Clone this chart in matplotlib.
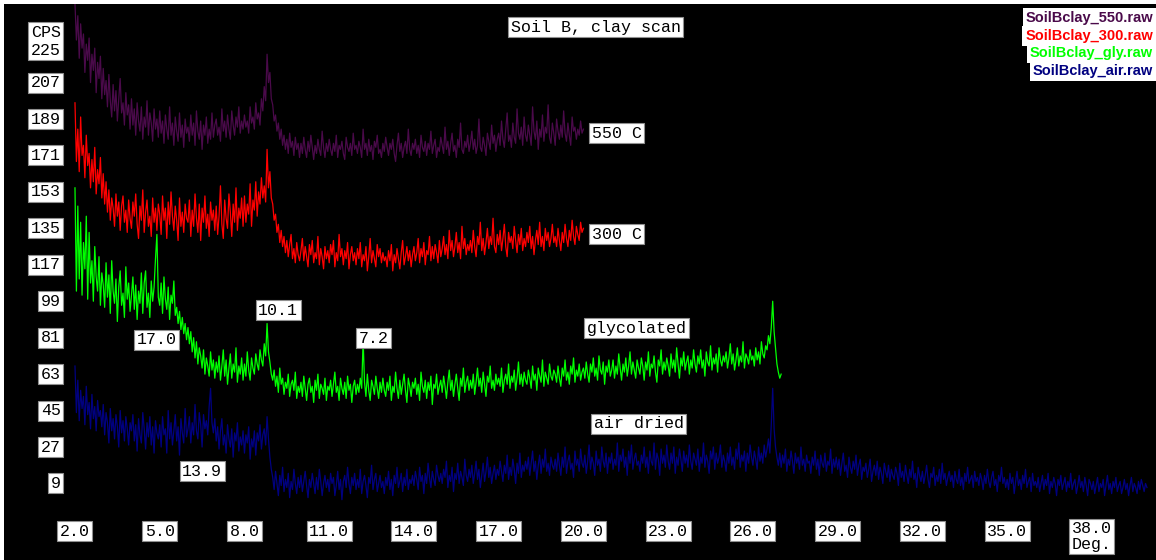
import matplotlib
matplotlib.use('Agg')
import matplotlib.pyplot as plt
import numpy as np

# XRD scans, Soil B clay fraction (CPS, 0.05 deg steps from 2.0 deg)
start_deg = 2.0
step_deg = 0.05

cps_550 = [
    246, 228, 240, 219, 236, 224, 231, 212, 226, 218, 229, 207, 221, 213, 224, 202, 217, 209, 220, 199,
    214, 201, 208, 195, 211, 198, 190, 206, 193, 203, 188, 199, 209, 192, 197, 186, 202, 191, 196, 184,
    199, 186, 194, 181, 197, 188, 183, 195, 179, 190, 185, 198, 181, 192, 187, 178, 194, 184, 189, 180,
    193, 182, 188, 177, 191, 184, 179, 195, 181, 187, 176, 190, 183, 178, 192, 180, 186, 175, 189, 182,
    185, 178, 191, 181, 187, 176, 193, 183, 179, 188, 174, 186, 181, 190, 177, 184, 179, 192, 180, 186,
    189, 181, 185, 178, 194, 183, 188, 180, 191, 184, 179, 193, 186, 181, 190, 185, 195, 182, 188, 184,
    191, 185, 188, 182, 195, 187, 190, 184, 197, 189, 192, 186, 199, 193, 205, 198, 221, 207, 212, 199,
    196, 188, 191, 183, 187, 179, 184, 176, 181, 174, 179, 172, 182, 175, 178, 171, 180, 174, 177, 170,
    177, 172, 180, 174, 170, 178, 173, 181, 175, 169, 176, 172, 179, 174, 171, 183, 175, 170, 177, 173,
    179, 174, 171, 177, 173, 181, 170, 176, 174, 178, 172, 169, 180, 175, 173, 177, 171, 182, 174, 176,
    172, 178, 175, 170, 184, 174, 177, 171, 179, 173, 176, 169, 178, 175, 181, 172, 174, 170, 177, 173,
    180, 175, 171, 177, 174, 179, 172, 168, 176, 182, 173, 177, 170, 175, 178, 172, 184, 174, 171, 177,
    174, 179, 172, 176, 170, 181, 175, 173, 178, 171, 177, 174, 183, 172, 176, 179, 170, 175, 173, 180,
    176, 172, 185, 174, 178, 171, 177, 182, 173, 176, 170, 179, 175, 187, 174, 172, 178, 175, 181, 173,
    177, 183, 174, 179, 172, 176, 189, 175, 173, 180, 176, 171, 182, 178, 174, 186, 177, 181, 173, 179,
    182, 176, 188, 179, 175, 184, 192, 178, 181, 175, 187, 180, 177, 194, 182, 179, 185, 176, 190, 181,
    178, 186, 181, 176, 195, 183, 179, 188, 174, 184, 180, 191, 178, 185, 182, 196, 180, 177, 187, 182,
    176, 189, 183, 179, 186, 180, 193, 182, 178, 187, 181, 176, 190, 183, 185, 179, 184, 181, 188, 182,
    184]

cps_300 = [
    197, 168, 184, 163, 190, 171, 176, 160, 181, 166, 172, 155, 169, 158, 175, 152, 164, 157, 170, 150,
    162, 147, 158, 143, 154, 139, 150, 145, 136, 152, 141, 148, 134, 146, 151, 138, 144, 133, 149, 140,
    135, 148, 141, 152, 137, 130, 146, 139, 154, 133, 143, 149, 136, 141, 131, 150, 138, 145, 134, 147,
    142, 132, 151, 139, 145, 130, 148, 137, 153, 141, 134, 146, 139, 129, 150, 136, 143, 133, 147, 140,
    138, 149, 131, 144, 136, 152, 140, 133, 147, 129, 145, 138, 151, 135, 142, 131, 148, 139, 144, 134,
    146, 132, 141, 156, 137, 130, 149, 140, 135, 152, 143, 131, 147, 138, 155, 134, 145, 140, 150, 136,
    151, 138, 147, 142, 157, 136, 149, 144, 158, 141, 153, 147, 160, 150, 156, 148, 174, 155, 163, 150,
    147, 139, 142, 133, 137, 128, 134, 126, 131, 123, 129, 121, 127, 132, 120, 125, 118, 128, 122, 119,
    124, 130, 119, 126, 121, 116, 127, 122, 129, 118, 123, 120, 131, 117, 125, 121, 115, 126, 120, 124,
    118, 127, 122, 129, 116, 123, 119, 132, 121, 125, 117, 124, 120, 128, 115, 122, 126, 119, 123, 117,
    125, 120, 128, 116, 122, 119, 126, 114, 121, 130, 118, 124, 120, 116, 127, 121, 125, 118, 123, 119,
    121, 116, 124, 119, 127, 114, 122, 118, 125, 120, 115, 123, 129, 117, 121, 126, 119, 124, 116, 122,
    126, 119, 123, 130, 118, 125, 121, 128, 117, 124, 122, 131, 119, 126, 120, 127, 123, 118, 129, 121,
    125, 131, 122, 127, 120, 134, 124, 129, 121, 126, 133, 123, 128, 120, 136, 125, 130, 122, 127, 124,
    129, 123, 134, 126, 121, 131, 127, 138, 124, 130, 122, 128, 135, 125, 131, 127, 140, 126, 123, 132,
    127, 134, 124, 130, 137, 126, 121, 133, 128, 131, 125, 136, 129, 123, 132, 127, 135, 124, 130, 126,
    133, 128, 136, 125, 131, 122, 129, 134, 127, 138, 126, 131, 124, 135, 129, 133, 126, 130, 137, 128,
    131, 126, 135, 129, 124, 133, 128, 137, 130, 126, 134, 129, 139, 131, 127, 136, 132, 129, 138, 133,
    135]

cps_gly = [
    155, 104, 146, 110, 138, 102, 128, 115, 141, 100, 133, 108, 119, 99, 126, 111, 104, 121, 97, 113,
    107, 96, 118, 101, 112, 93, 119, 104, 98, 110, 89, 106, 114, 97, 103, 91, 116, 100, 108, 94,
    102, 111, 95, 107, 90, 104, 98, 113, 93, 108, 114, 96, 103, 91, 109, 99, 106, 120, 132, 101,
    97, 108, 93, 111, 100, 95, 106, 90, 102, 98, 109, 92, 96, 88, 94, 85, 91, 83, 88, 80,
    86, 78, 84, 74, 81, 71, 79, 68, 76, 72, 66, 75, 63, 71, 67, 62, 74, 65, 70, 61,
    69, 64, 72, 60, 67, 75, 62, 70, 58, 66, 73, 61, 68, 64, 76, 59, 67, 63, 71, 60,
    68, 62, 74, 65, 60, 71, 66, 63, 73, 68, 65, 75, 70, 67, 78, 72, 88, 74, 69, 63,
    60, 65, 57, 62, 54, 66, 58, 61, 53, 59, 56, 63, 52, 58, 60, 55, 64, 51, 57, 54,
    59, 52, 62, 56, 50, 58, 61, 54, 57, 49, 60, 55, 63, 51, 58, 56, 53, 61, 50, 57,
    55, 60, 52, 58, 64, 54, 57, 50, 61, 56, 53, 59, 51, 62, 55, 58, 49, 57, 60, 53,
    58, 54, 61, 56, 80, 59, 52, 63, 55, 50, 60, 57, 53, 62, 56, 51, 59, 54, 61, 55,
    52, 59, 55, 62, 50, 57, 54, 64, 56, 51, 60, 53, 58, 63, 55, 49, 61, 57, 52, 59,
    56, 61, 53, 58, 50, 64, 57, 54, 60, 51, 59, 55, 62, 48, 58, 56, 63, 53, 57, 60,
    54, 62, 57, 51, 59, 65, 55, 60, 52, 58, 63, 56, 50, 61, 57, 66, 54, 59, 62, 55,
    60, 56, 63, 53, 59, 66, 57, 61, 54, 64, 58, 52, 62, 59, 67, 56, 60, 55, 63, 58,
    61, 57, 66, 54, 60, 63, 58, 68, 56, 62, 59, 65, 55, 61, 69, 58, 63, 57, 64, 60,
    58, 65, 61, 56, 67, 60, 63, 55, 66, 62, 59, 70, 57, 64, 61, 58, 68, 62, 60, 65,
    63, 59, 67, 61, 57, 66, 62, 70, 60, 64, 58, 67, 63, 71, 59, 65, 62, 68, 60, 64,
    66, 61, 69, 63, 59, 68, 64, 71, 62, 66, 60, 72, 65, 63, 69, 58, 67, 64, 70, 62,
    65, 70, 61, 67, 63, 73, 66, 60, 68, 64, 71, 62, 67, 74, 63, 69, 65, 61, 70, 66,
    63, 71, 67, 60, 69, 65, 74, 62, 68, 66, 72, 64, 59, 70, 67, 75, 63, 69, 65, 71,
    67, 62, 73, 66, 70, 64, 76, 68, 61, 71, 67, 74, 65, 69, 72, 63, 70, 66, 75, 68,
    64, 72, 68, 75, 66, 70, 62, 74, 69, 67, 77, 65, 71, 68, 73, 64, 76, 70, 67, 72,
    69, 74, 66, 71, 78, 68, 73, 65, 70, 76, 67, 72, 69, 79, 66, 73, 71, 68, 75, 70,
    72, 67, 76, 70, 74, 68, 79, 73, 71, 77, 75, 82, 78, 86, 99, 84, 76, 68, 64, 61,
    63]

cps_air = [
    67, 44, 60, 40, 55, 46, 52, 38, 57, 43, 49, 36, 53, 41, 47, 35, 50, 42, 45, 37,
    48, 33, 44, 39, 29, 46, 35, 41, 31, 43, 37, 27, 45, 34, 40, 30, 42, 36, 28, 39,
    35, 43, 30, 38, 25, 41, 33, 29, 44, 36, 26, 39, 32, 42, 28, 37, 24, 40, 34, 31,
    38, 27, 42, 33, 36, 24, 45, 31, 39, 28, 35, 43, 30, 37, 23, 41, 34, 29, 46, 32,
    36, 42, 29, 39, 33, 48, 35, 31, 44, 38, 27, 43, 36, 40, 33, 47, 56, 39, 34, 41,
    30, 37, 26, 35, 41, 28, 33, 24, 38, 31, 27, 36, 22, 34, 30, 39, 25, 32, 28, 35,
    24, 33, 29, 37, 21, 31, 27, 35, 23, 34, 30, 38, 26, 33, 36, 28, 42, 31, 22, 16,
    12, 6, 15, 9, 3, 13, 8, 17, 5, 11, 7, 14, 2, 10, 6, 16, 9, 4, 12, 7,
    13, 5, 10, 15, 8, 2, 11, 7, 14, 9, 4, 12, 6, 16, 10, 3, 9, 13, 7, 11,
    5, 14, 9, 12, 3, 8, 15, 6, 11, 1, 10, 13, 7, 17, 9, 4, 12, 8, 14, 6,
    11, 7, 16, 4, 10, 13, 8, 2, 12, 9, 18, 6, 11, 14, 5, 9, 13, 7, 10, 4,
    12, 8, 15, 6, 11, 3, 13, 9, 17, 7, 10, 14, 5, 12, 8, 16, 6, 11, 9, 13,
    8, 15, 11, 6, 17, 10, 13, 4, 14, 9, 19, 12, 7, 15, 11, 8, 18, 13, 10, 14,
    9, 16, 12, 20, 7, 13, 10, 17, 5, 14, 11, 19, 9, 15, 12, 8, 21, 13, 10, 16,
    12, 18, 9, 14, 20, 11, 16, 7, 13, 19, 10, 15, 22, 12, 17, 9, 14, 18, 11, 16,
    13, 20, 15, 10, 18, 14, 23, 11, 17, 13, 21, 16, 9, 19, 14, 24, 12, 18, 15, 20,
    16, 22, 13, 19, 25, 15, 20, 11, 18, 23, 14, 21, 17, 26, 15, 19, 13, 22, 18, 16,
    21, 15, 24, 18, 13, 22, 17, 27, 14, 20, 23, 16, 19, 12, 25, 18, 21, 15, 26, 19,
    17, 23, 14, 20, 28, 16, 22, 19, 13, 25, 18, 21, 15, 27, 20, 17, 24, 14, 22, 19,
    24, 16, 21, 18, 29, 15, 23, 20, 26, 17, 22, 13, 25, 19, 28, 16, 21, 24, 18, 20,
    15, 23, 19, 27, 17, 22, 14, 25, 20, 18, 29, 16, 24, 21, 13, 26, 19, 23, 17, 28,
    20, 16, 24, 19, 27, 14, 22, 18, 26, 21, 15, 25, 19, 23, 17, 28, 20, 16, 24, 21,
    18, 26, 15, 22, 19, 29, 17, 23, 20, 14, 25, 21, 27, 16, 24, 19, 22, 28, 17, 23,
    20, 15, 24, 19, 27, 18, 22, 16, 26, 21, 29, 17, 23, 20, 25, 15, 24, 19, 28, 22,
    18, 25, 21, 16, 27, 20, 24, 19, 28, 22, 26, 31, 24, 38, 56, 36, 27, 22, 18, 24,
    17, 23, 19, 26, 15, 21, 18, 25, 20, 14, 24, 19, 22, 16, 27, 18, 21, 15, 23, 19,
    20, 14, 22, 18, 25, 16, 21, 13, 23, 19, 17, 24, 15, 20, 18, 26, 14, 21, 17, 22,
    16, 21, 13, 19, 24, 15, 18, 12, 22, 17, 14, 20, 16, 23, 13, 18, 21, 11, 17, 15,
    19, 12, 16, 21, 10, 15, 18, 13, 20, 11, 17, 14, 9, 19, 15, 12, 18, 10, 16, 13,
    11, 17, 14, 8, 19, 12, 15, 10, 18, 13, 9, 16, 12, 20, 11, 14, 7, 17, 13, 10,
    15, 9, 13, 18, 11, 7, 14, 12, 17, 8, 13, 10, 16, 9, 19, 11, 14, 8, 12, 15,
    10, 13, 7, 15, 11, 9, 16, 8, 12, 6, 14, 10, 17, 9, 11, 13, 7, 15, 10, 12,
    8, 14, 11, 6, 13, 9, 16, 10, 7, 12, 15, 8, 11, 5, 13, 10, 17, 9, 12, 7,
    11, 6, 14, 9, 12, 4, 10, 15, 8, 11, 6, 13, 9, 16, 7, 10, 12, 5, 14, 8,
    10, 7, 12, 5, 9, 13, 6, 11, 8, 14, 4, 10, 7, 12, 9, 3, 11, 8, 13, 6,
    9, 12, 5, 10, 7, 14, 6, 9, 11, 4, 8, 13, 7, 10, 5, 12, 8, 3, 11, 9,
    6, 10, 4, 8, 12, 5, 9, 7, 11, 3, 8, 13, 6, 9, 4, 10, 7, 12, 5, 8,
    10, 4, 7, 11, 6, 9, 3, 8, 12, 5, 9, 7, 4, 10, 6, 11, 8, 5, 9, 7]

scan_files = ['SoilBclay_550.raw', 'SoilBclay_300.raw', 'SoilBclay_gly.raw', 'SoilBclay_air.raw']
scan_colors = ['#4a0a4a', '#ff0000', '#00ff00', '#000080']

x_ticks = [2.0, 5.0, 8.0, 11.0, 14.0, 17.0, 20.0, 23.0, 26.0, 29.0, 32.0, 35.0, 38.0]
y_ticks = [225, 207, 189, 171, 153, 135, 117, 99, 81, 63, 45, 27, 9]

# curve names and peak d-spacings (label text, deg, cps)
curve_notes = [('550 C', 20.30, 182), ('300 C', 20.30, 132),
               ('glycolated', 20.12, 85.6), ('air dried', 20.37, 38.4)]
peak_notes = [('17.0', 4.19, 80), ('10.1', 8.48, 94.6), ('7.2', 12.05, 80.6), ('13.9', 5.79, 15)]

mono = 'Liberation Mono'
fs = 12
box = dict(boxstyle='square,pad=0.15', fc='white', ec='#909090', lw=0.8)

fig = plt.figure(figsize=(11.56, 5.6), dpi=100, facecolor='white')
ax = fig.add_axes([4 / 1156, 0, 1152 / 1156, 556 / 560])
ax.set_facecolor('black')

series = [cps_550, cps_300, cps_gly, cps_air]
for vals, col in zip(series, scan_colors):
    xs = start_deg + step_deg * np.arange(len(vals))
    ax.plot(xs, vals, color=col, lw=0.9, zorder=2)

ax.set_xlim(-0.513, 40.27)
ax.set_ylim(-28.8, 245.8)
ax.set_xticks([])
ax.set_yticks([])
for s in ax.spines.values():
    s.set_visible(False)

# tick labels drawn as boxed text, like the original software
for t in x_ticks:
    lab = '%.1f' % t
    if t == x_ticks[-1]:
        ax.text(t, -9.6, lab + '\nDeg.', ha='center', va='top', fontsize=fs, family=mono,
                bbox=box, zorder=5, linespacing=1.05)
    else:
        ax.text(t, -14.5, lab, ha='center', va='center', fontsize=fs, family=mono,
                bbox=box, zorder=5)

for v in y_ticks:
    if v == y_ticks[0]:
        ax.text(1.5, 227.5, 'CPS\n' + str(v), ha='right', va='center', fontsize=fs, family=mono,
                bbox=box, zorder=5, linespacing=1.25)
    else:
        ax.text(1.5, v, str(v), ha='right', va='center', fontsize=fs, family=mono,
                bbox=box, zorder=5)

ax.text(20.44, 234.4, 'Soil B, clay scan', ha='center', va='center', fontsize=fs,
        family=mono, bbox=box, zorder=5)

for txt, xd, yd in curve_notes + peak_notes:
    ax.text(xd, yd, txt, ha='left', va='center', fontsize=fs, family=mono,
            bbox=box, zorder=5)

# file legend, top right
for i, (name, col) in enumerate(zip(scan_files, scan_colors)):
    ax.text(0.9975, 0.975 - i * 0.032, name, transform=ax.transAxes, ha='right', va='center',
            fontsize=10.5, family='Liberation Sans', fontweight='bold', color=col,
            bbox=dict(boxstyle='square,pad=0.2', fc='white', ec='none'), zorder=6)

fig.savefig('out.png', dpi=100, facecolor=fig.get_facecolor())
